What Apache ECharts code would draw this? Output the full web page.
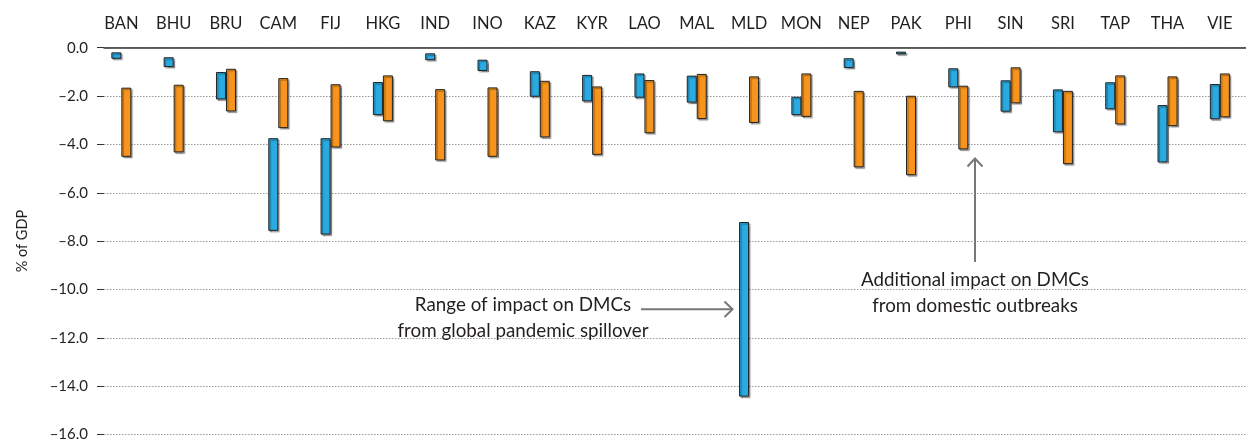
<!DOCTYPE html>
<html>
<head>
<meta charset="utf-8">
<script src="https://cdn.jsdelivr.net/npm/echarts@6/dist/echarts.min.js"></script>
<style>
html,body{margin:0;padding:0;background:#fff;}
#chart{width:1246px;height:442px;}
</style>
</head>
<body>
<div id="chart"></div>
<script>
var categories = ['BAN','BHU','BRU','CAM','FIJ','HKG','IND','INO','KAZ','KYR','LAO','MAL','MLD','MON','NEP','PAK','PHI','SIN','SRI','TAP','THA','VIE'];
var blueTop    = [-0.19,-0.39,-0.99,-3.69,-3.69,-1.40,-0.23,-0.49,-0.96,-1.11,-1.05,-1.14,-7.11,-2.00,-0.43,-0.16,-0.84,-1.33,-1.70,-1.41,-2.34,-1.48];
var blueBottom = [-0.45,-0.79,-2.11,-7.47,-7.62,-2.75,-0.51,-0.95,-2.00,-2.19,-2.04,-2.24,-14.23,-2.75,-0.83,-0.27,-1.62,-2.61,-3.45,-2.51,-4.68,-2.92];
var orangeTop    = [-1.63,-1.51,-0.86,-1.24,-1.49,-1.13,-1.69,-1.62,-1.35,-1.58,-1.32,-1.07,-1.17,-1.05,-1.76,-1.96,-1.55,-0.80,-1.76,-1.13,-1.17,-1.05];
var orangeBottom = [-4.45,-4.27,-2.60,-3.28,-4.07,-3.00,-4.60,-4.45,-3.66,-4.37,-3.49,-2.91,-3.07,-2.82,-4.88,-5.20,-4.15,-2.27,-4.75,-3.13,-3.20,-2.84];
var yTicks = {min: -16, max: 0, interval: 2};
var yName = '% of GDP';
var note1 = ['Range of impact on DMCs', 'from global pandemic spillover'];
var note2 = ['Additional impact on DMCs', 'from domestic outbreaks'];

var FONT = 'Lato';
var TXT = '#231f20';
var BLUE = '#29aae1';
var ORANGE = '#f7941d';

function range(top, bottom){ return top.map(function(t,i){ return +(bottom[i]-t).toFixed(2); }); }

var barStyle = function(c){ return {
  color: c, borderColor: '#222', borderWidth: 1,
  shadowColor: 'rgba(0,0,0,0.35)', shadowOffsetX: 1.5, shadowOffsetY: 1.5, shadowBlur: 1
};};
var baseStyle = {color: 'rgba(0,0,0,0)', borderWidth: 0};

var chart = echarts.init(document.getElementById('chart'), null, {renderer: 'canvas'});
var option = {
  animation: false,
  backgroundColor: '#fff',
  grid: [
    {left: 104, right: 0, top: 47.7, bottom: 2},
    {left: 95.2, width: 1163.8, top: 47.7, bottom: 2}
  ],
  xAxis: [
    {gridIndex: 0, type: 'value', position: 'top', min: 0, max: 1,
      axisLine: {show: true, onZero: false, lineStyle: {color: '#333', width: 1.5}},
      axisTick: {show: false}, axisLabel: {show: false}, splitLine: {show: false}},
    {gridIndex: 1, type: 'category', position: 'top', data: categories,
      axisLine: {show: false}, axisTick: {show: false}, splitLine: {show: false},
      axisLabel: {show: true, interval: 0, margin: 16, color: TXT, fontFamily: FONT, fontSize: 16.5}}
  ],
  yAxis: [
    {gridIndex: 0, type: 'value', min: yTicks.min, max: yTicks.max, interval: yTicks.interval,
      offset: 5,
      name: yName, nameLocation: 'middle', nameGap: 69, nameRotate: 90,
      nameTextStyle: {color: TXT, fontFamily: FONT, fontSize: 14.5},
      axisLine: {show: false},
      axisTick: {show: true, length: 7, lineStyle: {color: '#333', width: 1}},
      axisLabel: {margin: 11, color: TXT, fontFamily: FONT, fontSize: 15,
        formatter: function(v){ var s = Math.abs(v).toFixed(1); return v < 0 ? '\u2013' + s : s; }},
      splitLine: {show: true, lineStyle: {color: '#9a9a9a', type: [1.5,1.5], width: 1}}},
    {gridIndex: 1, type: 'value', min: yTicks.min, max: yTicks.max, interval: yTicks.interval,
      show: false, splitLine: {show: false}}
  ],
  series: [
    {type: 'bar', xAxisIndex: 1, yAxisIndex: 1, stack: 'b', barWidth: 10, barGap: '0%',
      data: blueTop, itemStyle: baseStyle, silent: true},
    {type: 'bar', xAxisIndex: 1, yAxisIndex: 1, stack: 'b', barWidth: 10, barGap: '0%',
      data: range(blueTop, blueBottom), itemStyle: barStyle(BLUE)},
    {type: 'bar', xAxisIndex: 1, yAxisIndex: 1, stack: 'o', barWidth: 10, barGap: '0%',
      data: orangeTop, itemStyle: baseStyle, silent: true},
    {type: 'bar', xAxisIndex: 1, yAxisIndex: 1, stack: 'o', barWidth: 10, barGap: '0%',
      data: range(orangeTop, orangeBottom), itemStyle: barStyle(ORANGE)}
  ]
};
chart.setOption(option);

var ARROW = '#777';
var txtStyle = function(x, y, s){ return {type: 'text', x: x, y: y, style: {
  text: s, fill: TXT, font: '18.8px ' + FONT, align: 'center', verticalAlign: 'middle'}}; };
chart.setOption({
  graphic: [
    txtStyle(523, 305, note1[0]),
    txtStyle(523, 331, note1[1]),
    {type: 'line', shape: {x1: 641, y1: 309.3, x2: 732, y2: 309.3}, style: {stroke: ARROW, lineWidth: 2}},
    {type: 'polyline', shape: {points: [[724.5, 301.5], [732.5, 309.3], [724.5, 317]]}, style: {stroke: ARROW, lineWidth: 2, fill: null}},
    txtStyle(975, 280, note2[0]),
    txtStyle(975, 306, note2[1]),
    {type: 'line', shape: {x1: 975, y1: 262, x2: 975, y2: 159}, style: {stroke: ARROW, lineWidth: 2}},
    {type: 'polyline', shape: {points: [[967.5, 166.5], [975, 158.5], [982.5, 166.5]]}, style: {stroke: ARROW, lineWidth: 2, fill: null}}
  ]
});
</script>
</body>
</html>
